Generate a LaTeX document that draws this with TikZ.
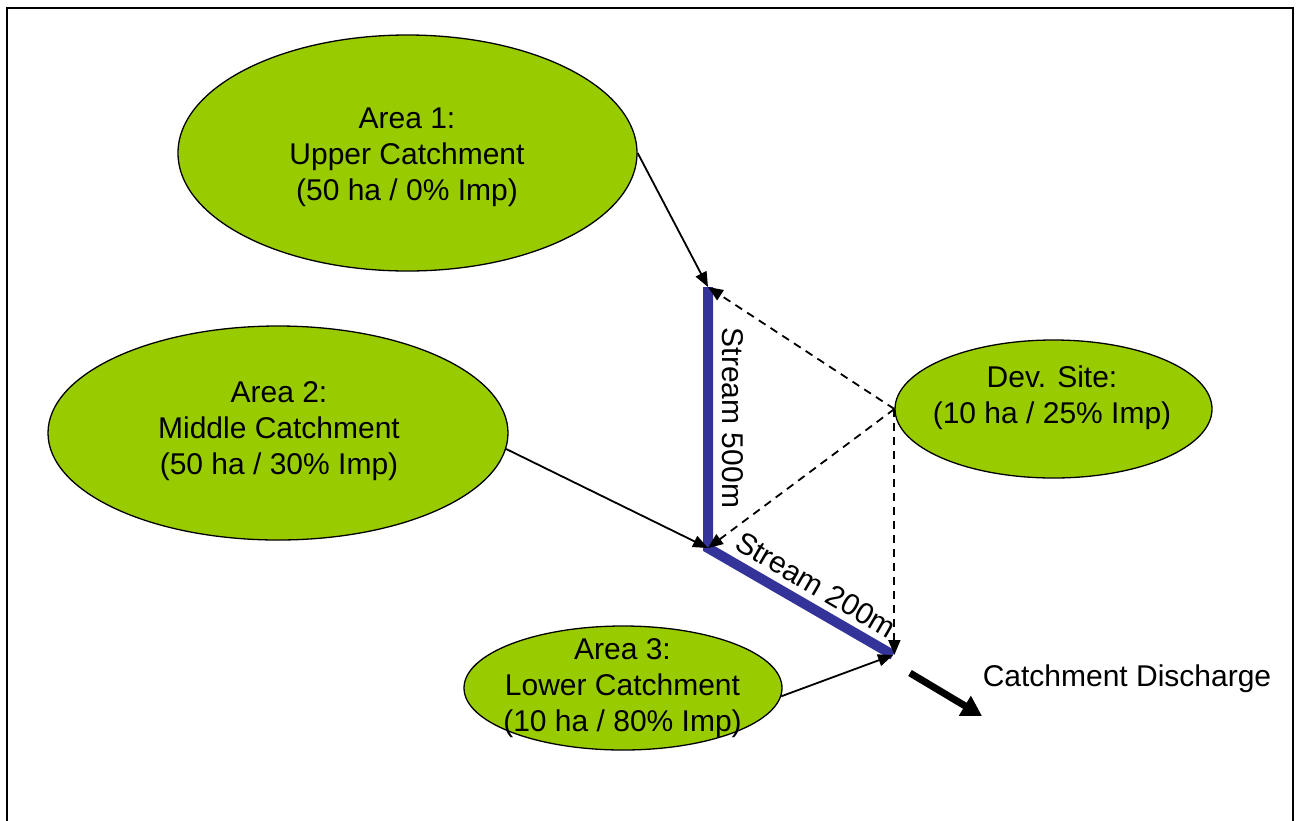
\documentclass[tikz,border=0pt]{standalone}
\usepackage{fontspec}
\setmainfont{Liberation Sans}
\usetikzlibrary{shapes.geometric,arrows.meta}
\definecolor{areagreen}{RGB}{153,204,0}
\definecolor{streamblue}{RGB}{51,51,153}
\begin{document}
\begin{tikzpicture}[x=1pt,y=-1pt,
  area/.style={ellipse,draw=black,line width=1.3pt,fill=areagreen,inner sep=0pt},
  txt/.style={align=center,inner sep=0pt,font=\fontsize{30}{36}\selectfont},
  flow/.style={line width=1.8pt,-{Triangle[length=15pt,width=12pt]}},
  dflow/.style={flow,dash pattern=on 8pt off 6pt},
  stream/.style={line width=10pt,streamblue},
  bigflow/.style={line width=7pt,-{Triangle[length=20pt,width=22pt]}}]
\useasboundingbox (0,0) rectangle (1297,820);
\draw[line width=2pt] (7,830) -- (7,8) -- (1293,8) -- (1293,830);
% areas
\node[area,minimum width=459pt,minimum height=236pt] (a1) at (407.5,153) {};
\node[txt] (t1) at (407,157) {Area 1:\\Upper Catchment\\(50 ha / 0\% Imp)};
\node[area,minimum width=460pt,minimum height=214pt] (a2) at (278,433) {};
\node[txt] (t2) at (279,431) {Area 2:\\Middle Catchment\\(50 ha / 30\% Imp)};
\node[area,minimum width=318pt,minimum height=124pt] (a3) at (623,688) {};
\node[txt] (t3) at (622.5,688) {Area 3:\\Lower Catchment\\(10 ha / 80\% Imp)};
\node[area,minimum width=317pt,minimum height=138pt] (d) at (1053.5,409) {};
\node[txt] (td) at (1052,398) {Dev. Site:\\(10 ha / 25\% Imp)};
% stream
\coordinate (s1) at (708,287);
\coordinate (s2) at (708,548);
\coordinate (s3) at (893,655);
\draw[stream,line join=miter] (s1) -- (s2) -- (s3);
\node[txt,rotate=-90] (l1) at (733,418) {Stream 500m};
\node[txt,rotate=-30.2] (l2) at (816,585) {Stream 200m};
% flows
\draw[flow] (a1.east) -- (s1);
\draw[flow] (a2.-4.7) -- (s2);
\draw[flow] (a3.-3.6) -- (s3);
\draw[dflow] (d.west) -- (s1);
\draw[dflow] (d.west) -- (s2);
\draw[dflow] (d.west) -- (d.west |- s3);
% discharge
\coordinate (q1) at (910,673);
\coordinate (q2) at (982,716);
\draw[bigflow] (q1) -- (q2);
\node[txt] (cd) at (1127,679) {Catchment Discharge};
\end{tikzpicture}
\end{document}
